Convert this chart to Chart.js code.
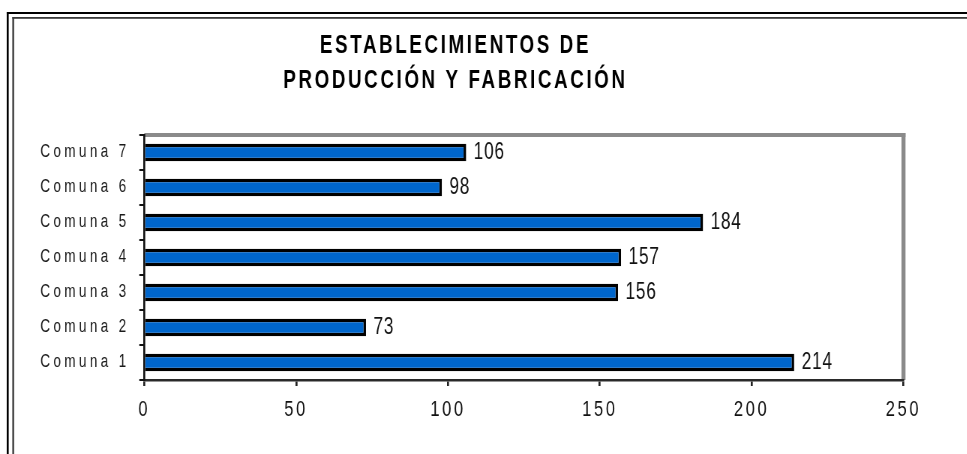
<!DOCTYPE html>
<html>
<head>
<meta charset="utf-8">
<script src="https://cdn.jsdelivr.net/npm/chart.js@4.4.1/dist/chart.umd.min.js"></script>
<style>
    html, body { margin: 0; padding: 0; background: #fff; overflow: hidden; }
    #wrap { width: 1290px; height: 454px; transform: scaleX(0.75); transform-origin: 0 0; }
</style>
</head>
<body>
<div id="wrap"><canvas id="chart_establecimientos" width="1290" height="454"></canvas></div>
<script>
// the original picture is squeezed horizontally, so the canvas is drawn wider and scaled down
const SX = 0.75;

const titleLines = ['ESTABLECIMIENTOS DE', 'PRODUCCIÓN Y FABRICACIÓN'];
const comunas = ['Comuna 1', 'Comuna 2', 'Comuna 3', 'Comuna 4', 'Comuna 5', 'Comuna 6', 'Comuna 7'];
const establecimientos = [214, 73, 156, 157, 184, 98, 106];
const xTicks = [0, 50, 100, 150, 200, 250];

Chart.defaults.font.family = '"Liberation Sans", Arial, sans-serif';

const marco = {
    id: 'marco',
    beforeDraw(chart) {
        const ctx = chart.ctx;
        const W = chart.width, H = chart.height;
        const a = chart.chartArea;
        ctx.save();
        ctx.fillStyle = '#fff';
        ctx.fillRect(0, 0, W, H);
        // double frame round the picture
        ctx.fillStyle = '#000';
        ctx.fillRect(6.7 / SX, 12, W, 2);
        ctx.fillRect(6.7 / SX, 12, 2 / SX, H);
        ctx.fillStyle = '#3a3a3a';
        ctx.fillRect(12.3 / SX, 17, W, 1.8);
        ctx.fillRect(12.3 / SX, 17, 1.8 / SX, H);
        // title
        ctx.fillStyle = '#000';
        ctx.font = 'bold 25px "Liberation Sans", Arial, sans-serif';
        ctx.letterSpacing = '3.5px';
        ctx.textAlign = 'center';
        ctx.textBaseline = 'middle';
        const cx = 454 / SX + 2;
        ctx.fillText(titleLines[0], cx, 46);
        ctx.fillText(titleLines[1], cx, 81);
        // gray border of the plot area (top and right)
        ctx.fillStyle = '#8a8a8a';
        ctx.fillRect(a.left, a.top - 2, a.right - a.left + 2 / SX, 4);
        ctx.fillRect(a.right - 2 / SX, a.top - 2, 4 / SX, a.bottom - a.top + 2);
        ctx.restore();
        // x tick labels are spaced out
        ctx.letterSpacing = '3.5px';
    }
};

const etiquetas = {
    id: 'etiquetas',
    afterDatasetsDraw(chart) {
        const ctx = chart.ctx;
        const meta = chart.getDatasetMeta(0);
        ctx.save();
        ctx.letterSpacing = '1px';
        ctx.font = '23px "Liberation Sans", Arial, sans-serif';
        ctx.fillStyle = '#111';
        ctx.textAlign = 'left';
        ctx.textBaseline = 'middle';
        meta.data.forEach((bar, i) => {
            ctx.fillText(String(establecimientos[i]), bar.x + 10, bar.y);
        });
        ctx.restore();
        // y labels (ticks z: 1) are drawn after this, wider spaced
        ctx.letterSpacing = '4.5px';
    }
};

new Chart(document.getElementById('chart_establecimientos'), {
    type: 'bar',
    data: {
        labels: comunas,
        datasets: [{
            data: establecimientos,
            backgroundColor: '#0066cc',
            borderColor: '#000',
            borderWidth: 3.5,
            barPercentage: 0.5,
            categoryPercentage: 1
        }]
    },
    options: {
        indexAxis: 'y',
        responsive: false,
        animation: false,
        layout: {
            padding: { left: 0, top: 135, right: 1290 - 903.5 / SX, bottom: 0 }
        },
        scales: {
            x: {
                type: 'linear',
                min: 0,
                max: 250,
                afterBuildTicks: s => { s.ticks = xTicks.map(v => ({ value: v })); },
                afterFit: s => { s.height = 454 - 380; },
                grid: { drawOnChartArea: false, drawTicks: true, tickLength: 6, color: '#222', lineWidth: 2 / SX },
                border: { display: true, color: '#2a2a2a', width: 2.5 },
                ticks: { color: '#111', font: { size: 22 }, padding: 11, maxRotation: 0 }
            },
            y: {
                reverse: true,
                afterFit: s => { s.width = 144.3 / SX; },
                grid: { drawOnChartArea: false, drawTicks: true, tickLength: 5 / SX, color: '#111', lineWidth: 2, offset: true },
                border: { display: true, color: '#111', width: 2 / SX },
                ticks: { color: '#1a1a1a', font: { size: 18 }, padding: 13, z: 1 }
            }
        },
        plugins: {
            legend: { display: false },
            tooltip: { enabled: false }
        }
    },
    plugins: [marco, etiquetas]
});
</script>
</body>
</html>
